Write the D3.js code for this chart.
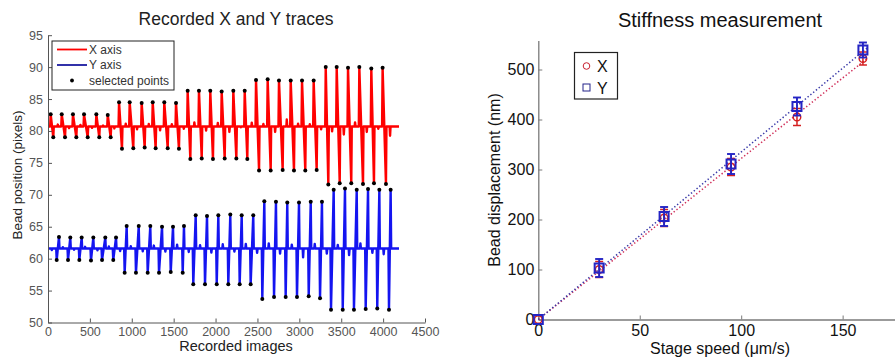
<!DOCTYPE html>
<html>
<head>
  <meta charset="utf-8">
  <script src="https://d3js.org/d3.v7.min.js"></script>
  <style>
    body { margin: 0; background: #fff; }
    svg text { font-family: "Liberation Sans", Arial, sans-serif; }
  </style>
</head>
<body>
<div id="chart"></div>

<script>
  // ---------- Left panel: recorded traces ----------
  // baselines of the two traces (pixels)
  var xBase = 80.7;
  var yBase = 61.6;
  var traceEnd = 4190;

  // X axis trace: positive peak then dip (image index, value)
  var xPeakT = [32, 164, 298, 430, 577, 713, 848, 975, 1118, 1250, 1388, 1528, 1667, 1802, 1937, 2073, 2212, 2348, 2483, 2622, 2757, 2897, 3032, 3171, 3315, 3446, 3581, 3716, 3859, 3994];
  var xPeakV = [82.6, 82.6, 82.6, 82.6, 82.6, 82.5, 84.5, 84.5, 84.4, 84.5, 84.5, 84.4, 86.3, 86.3, 86.3, 86.2, 86.3, 86.3, 88.0, 88.1, 87.9, 87.9, 87.9, 87.9, 90.0, 90.0, 89.9, 90.0, 89.8, 89.9];
  var xDipT = [63, 203, 338, 474, 612, 748, 883, 1018, 1154, 1285, 1429, 1563, 1699, 1835, 1969, 2109, 2248, 2379, 2519, 2658, 2801, 2936, 3071, 3207, 3346, 3482, 3620, 3760, 3891, 4034];
  var xDipV = [79.0, 79.0, 79.0, 79.0, 79.0, 79.0, 77.2, 77.3, 77.4, 77.3, 77.3, 77.2, 75.6, 75.7, 75.6, 75.7, 75.7, 75.6, 73.8, 73.8, 73.9, 73.8, 73.8, 73.9, 71.6, 71.8, 71.8, 71.7, 71.8, 71.7];

  // Y axis trace: dip then positive peak
  var yDipT = [104, 239, 374, 513, 645, 779, 915, 1050, 1190, 1325, 1465, 1608, 1734, 1874, 2014, 2152, 2288, 2419, 2558, 2698, 2837, 2972, 3112, 3247, 3378, 3518, 3652, 3792, 3930, 4070];
  var yDipV = [59.8, 59.8, 59.8, 59.7, 59.8, 59.8, 57.8, 57.8, 57.8, 57.8, 57.9, 57.8, 56.0, 56.0, 56.0, 56.0, 56.0, 56.0, 53.7, 54.0, 54.0, 54.0, 54.1, 53.8, 52.0, 52.0, 52.0, 52.1, 52.2, 52.0];
  var yPeakT = [131, 266, 402, 541, 684, 812, 939, 1083, 1221, 1361, 1492, 1623, 1763, 1898, 2033, 2176, 2312, 2450, 2582, 2721, 2856, 2996, 3136, 3270, 3410, 3545, 3685, 3820, 3955, 4090];
  var yPeakV = [63.4, 63.3, 63.3, 63.3, 63.3, 63.3, 65.1, 65.1, 65.1, 65.0, 65.0, 65.1, 66.8, 66.7, 66.8, 66.9, 66.8, 66.8, 69.0, 68.9, 68.8, 68.8, 68.9, 68.9, 70.8, 71.0, 70.8, 70.9, 70.8, 70.8];

  // small cross-talk blips seen on each trace when the other axis moves
  var xBlipV = [81.0, 80.45, 80.95, 80.5, 80.85, 80.4, 81.15, 80.25, 81.1, 80.1, 81.05, 80.35, 81.35, 80.05, 81.25, 79.85, 80.6, 81.3, 81.1, 79.85, 81.8, 81.15, 81.05, 80.25, 79.95, 79.45, 81.35, 79.85, 80.35, 79.25];
  var yBlipV = [61.35, 61.8, 61.4, 61.85, 61.3, 61.9, 61.2, 61.95, 61.15, 62.05, 61.1, 62.2, 61.05, 62.1, 60.95, 62.25, 61.1, 62.3, 60.9, 62.4, 60.8, 62.2, 60.2, 62.3, 60.8, 62.15, 60.55, 62.4, 60.9, 60.7];

  var leftXTicks = [0, 500, 1000, 1500, 2000, 2500, 3000, 3500, 4000, 4500];
  var leftYTicks = [50, 55, 60, 65, 70, 75, 80, 85, 90, 95];

  // ---------- Right panel: stiffness ----------
  var speeds = [0, 30, 62, 95, 127.5, 160];
  var xDisp = [0, 100, 203, 305, 405, 522];
  var xErr = [0, 16, 17, 17, 17, 13];
  var yDisp = [0, 103, 206, 311, 426, 539];
  var yErr = [0, 18, 19, 20, 18, 15];
  var xFitSlope = 3.22;
  var yFitSlope = 3.35;
  var fitRange = [0, 162];

  var rightXTicks = [0, 50, 100, 150];
  var rightYTicks = [0, 100, 200, 300, 400, 500];

  var svg = d3.select("#chart").append("svg")
    .attr("width", 895)
    .attr("height", 360)
    .style("display", "block");

  svg.append("rect").attr("width", 895).attr("height", 360).attr("fill", "#fff");

  // ===== LEFT =====
  var xL = d3.scaleLinear().domain([0, 4500]).range([48, 425]);
  var yL = d3.scaleLinear().domain([50, 95]).range([322.5, 35.2]);

  // build trace points from the read pulses
  function buildTrace(base, t1, v1, t2, v2, blipT, blipV) {
    var pts = [[0, base]];
    for (var i = 0; i < t1.length; i++) {
      pts.push([t1[i] - 6, base]);
      pts.push([t1[i], v1[i]]);
      pts.push([t2[i], v2[i]]);
      pts.push([t2[i] + 6, base]);
      pts.push([blipT[i] + 8, base]);
      pts.push([blipT[i] + 13, blipV[i]]);
      pts.push([blipT[i] + 19, base]);
    }
    pts.push([traceEnd, base]);
    pts.sort(function(a, b) { return a[0] - b[0]; });
    return pts;
  }

  var line = d3.line()
    .x(function(d) { return xL(d[0]); })
    .y(function(d) { return yL(d[1]); });

  var left = svg.append("g");

  left.append("path")
    .attr("d", line(buildTrace(xBase, xPeakT, xPeakV, xDipT, xDipV, yDipT, xBlipV)))
    .attr("fill", "none").attr("stroke", "#ff0000")
    .attr("stroke-width", 2.4).attr("stroke-linejoin", "round");

  left.append("path")
    .attr("d", line(buildTrace(yBase, yDipT, yDipV, yPeakT, yPeakV, xPeakT, yBlipV)))
    .attr("fill", "none").attr("stroke", "#1414f0")
    .attr("stroke-width", 2.4).attr("stroke-linejoin", "round");

  // selected points
  var sel = [];
  for (var i = 0; i < xPeakT.length; i++) {
    sel.push([xPeakT[i], xPeakV[i]], [xDipT[i], xDipV[i]], [yDipT[i], yDipV[i]], [yPeakT[i], yPeakV[i]]);
  }
  left.selectAll("circle.sel").data(sel).enter().append("circle")
    .attr("class", "sel")
    .attr("cx", function(d) { return xL(d[0]); })
    .attr("cy", function(d) { return yL(d[1]); })
    .attr("r", 2)
    .attr("fill", "#000");

  // axes
  var lAxisX = left.append("g").attr("transform", "translate(0," + yL(50) + ")")
    .call(d3.axisBottom(xL).tickValues(leftXTicks).tickFormat(d3.format("d"))
      .tickSizeInner(-4).tickSizeOuter(0).tickPadding(5));
  var lAxisY = left.append("g").attr("transform", "translate(" + xL(0) + ",0)")
    .call(d3.axisLeft(yL).tickValues(leftYTicks).tickFormat(d3.format("d"))
      .tickSizeInner(-4).tickSizeOuter(0).tickPadding(5));
  [lAxisX, lAxisY].forEach(function(a) {
    a.select(".domain").attr("stroke", "#555");
    a.selectAll(".tick line").attr("stroke", "#555");
    a.selectAll(".tick text").attr("fill", "#555").style("font-size", "12.5px");
  });

  left.append("text").attr("x", 236).attr("y", 25).attr("text-anchor", "middle")
    .style("font-size", "17.5px").attr("fill", "#222").text("Recorded X and Y traces");
  left.append("text").attr("x", 236).attr("y", 351).attr("text-anchor", "middle")
    .style("font-size", "14.5px").attr("fill", "#222").text("Recorded images");
  left.append("text").attr("transform", "translate(22,175) rotate(-90)").attr("text-anchor", "middle")
    .style("font-size", "13.5px").attr("fill", "#222").text("Bead position (pixels)");

  // legend
  var lg = left.append("g");
  lg.append("rect").attr("x", 52).attr("y", 41).attr("width", 122).attr("height", 49)
    .attr("fill", "#fff").attr("stroke", "#222").attr("stroke-width", 1);
  lg.append("line").attr("x1", 57).attr("x2", 87).attr("y1", 49.5).attr("y2", 49.5)
    .attr("stroke", "#ff0000").attr("stroke-width", 1.8);
  lg.append("line").attr("x1", 57).attr("x2", 87).attr("y1", 65).attr("y2", 65)
    .attr("stroke", "#1a1aa0").attr("stroke-width", 1.8);
  lg.append("circle").attr("cx", 72).attr("cy", 80.5).attr("r", 1.9).attr("fill", "#000");
  [["X axis", 53.5], ["Y axis", 69], ["selected points", 85]].forEach(function(e) {
    lg.append("text").attr("x", 89).attr("y", e[1]).style("font-size", "12px")
      .attr("fill", "#333").text(e[0]);
  });

  // ===== RIGHT =====
  var xR = d3.scaleLinear().domain([0, 180]).range([538.3, 903.5]);
  var yR = d3.scaleLinear().domain([0, 558]).range([319.5, 40.5]);
  var right = svg.append("g");

  var rAxisX = right.append("g").attr("transform", "translate(0," + yR(0) + ")")
    .call(d3.axisBottom(xR).tickValues(rightXTicks).tickSizeInner(-4).tickSizeOuter(0).tickPadding(5));
  var rAxisY = right.append("g").attr("transform", "translate(" + xR(0) + ",0)")
    .call(d3.axisLeft(yR).tickValues(rightYTicks).tickSizeInner(-4).tickSizeOuter(0).tickPadding(4));
  [rAxisX, rAxisY].forEach(function(a) {
    a.select(".domain").attr("stroke", "#7a7a7a").attr("stroke-width", 1.3);
    a.selectAll(".tick line").attr("stroke", "#7a7a7a");
    a.selectAll(".tick text").attr("fill", "#111").style("font-size", "16px");
  });

  // fit lines (dotted)
  [[xFitSlope, "#d0305a"], [yFitSlope, "#3a3aa8"]].forEach(function(f) {
    right.append("line")
      .attr("x1", xR(fitRange[0])).attr("y1", yR(fitRange[0] * f[0]))
      .attr("x2", xR(fitRange[1])).attr("y2", yR(fitRange[1] * f[0]))
      .attr("stroke", f[1]).attr("stroke-width", 1.5)
      .attr("stroke-dasharray", "1.4,2.2");
  });

  // error bars + markers
  function errBars(vals, errs, color, w) {
    speeds.forEach(function(s, i) {
      if (errs[i] === 0) return;
      var x = xR(s);
      right.append("line").attr("x1", x).attr("x2", x)
        .attr("y1", yR(vals[i] - errs[i])).attr("y2", yR(vals[i] + errs[i]))
        .attr("stroke", color).attr("stroke-width", w);
      [vals[i] - errs[i], vals[i] + errs[i]].forEach(function(v) {
        right.append("line").attr("x1", x - 4).attr("x2", x + 4)
          .attr("y1", yR(v)).attr("y2", yR(v))
          .attr("stroke", color).attr("stroke-width", w);
      });
    });
  }
  errBars(xDisp, xErr, "#d42020", 1.5);
  speeds.forEach(function(s, i) {
    right.append("circle").attr("cx", xR(s)).attr("cy", yR(xDisp[i])).attr("r", 3.8)
      .attr("fill", "none").attr("stroke", "#d42020").attr("stroke-width", 1.4);
  });
  errBars(yDisp, yErr, "#2424c4", 1.9);
  speeds.forEach(function(s, i) {
    right.append("rect").attr("x", xR(s) - 4.5).attr("y", yR(yDisp[i]) - 4.5)
      .attr("width", 9).attr("height", 9)
      .attr("fill", "none").attr("stroke", "#2424c4").attr("stroke-width", 2);
  });

  right.append("text").attr("x", 720).attr("y", 27).attr("text-anchor", "middle")
    .style("font-size", "20px").attr("fill", "#111").text("Stiffness measurement");
  right.append("text").attr("x", 720).attr("y", 354).attr("text-anchor", "middle")
    .style("font-size", "16px").attr("fill", "#111").text("Stage speed (μm/s)");
  right.append("text").attr("transform", "translate(500,180) rotate(-90)").attr("text-anchor", "middle")
    .style("font-size", "16px").attr("fill", "#111").text("Bead displacement (nm)");

  // legend
  var rg = right.append("g");
  rg.append("rect").attr("x", 574.5).attr("y", 52.5).attr("width", 43).attr("height", 46.5)
    .attr("fill", "#fff").attr("stroke", "#222").attr("stroke-width", 1.2);
  rg.append("circle").attr("cx", 586.5).attr("cy", 66).attr("r", 3.3)
    .attr("fill", "none").attr("stroke", "#c82030").attr("stroke-width", 1);
  rg.append("rect").attr("x", 583).attr("y", 84).attr("width", 7).attr("height", 7)
    .attr("fill", "none").attr("stroke", "#24248a").attr("stroke-width", 1);
  rg.append("text").attr("x", 597).attr("y", 72).style("font-size", "16px").attr("fill", "#111").text("X");
  rg.append("text").attr("x", 597).attr("y", 93.5).style("font-size", "16px").attr("fill", "#111").text("Y");
</script>
</body>
</html>
